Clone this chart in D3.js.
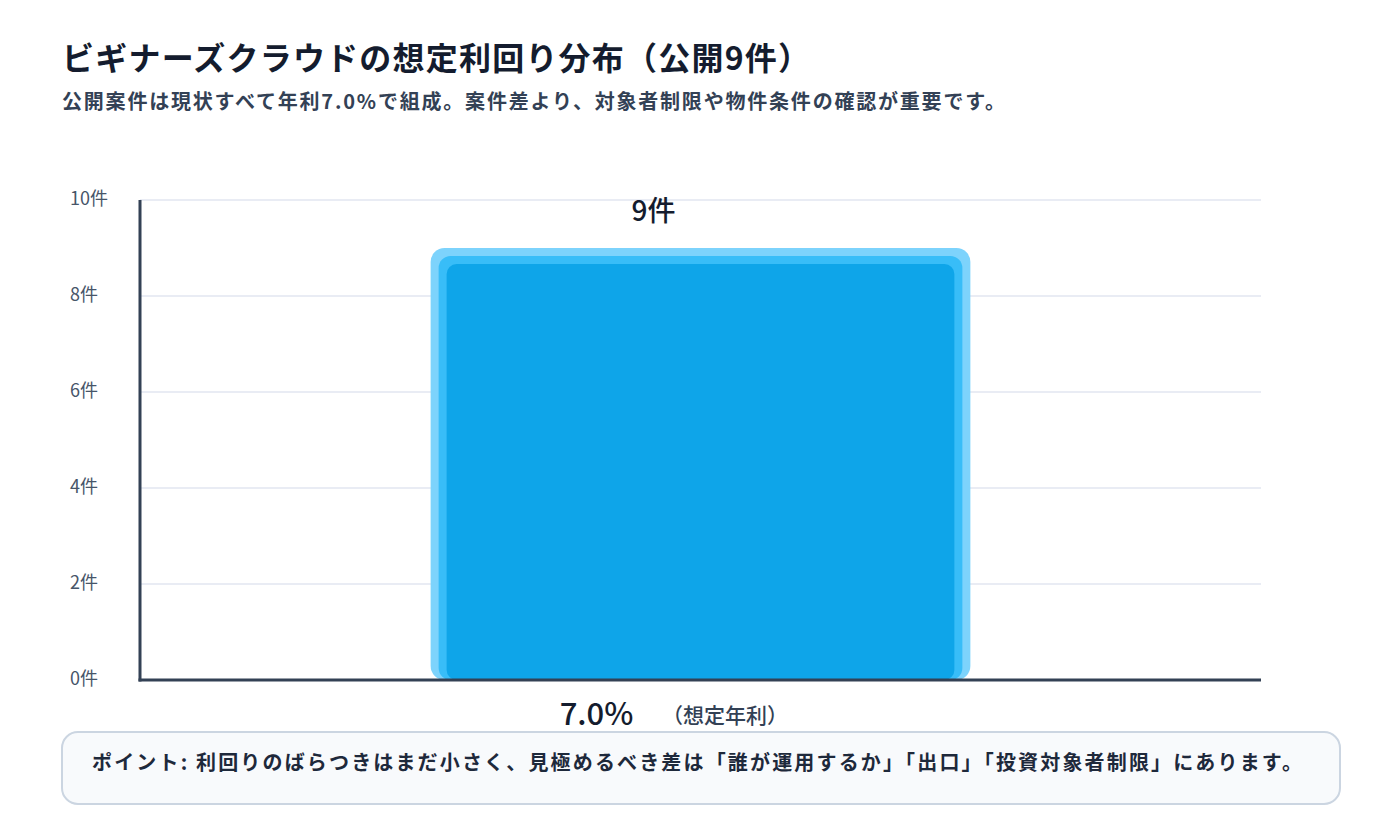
<!DOCTYPE html>
<html><head><meta charset="utf-8">
<script src="https://cdn.jsdelivr.net/npm/d3@7"></script>
<style>
html,body{margin:0;padding:0;background:#fff;}
svg{display:block;font-family:"Noto Sans CJK JP","Noto Sans",sans-serif;}
</style></head>
<body><svg id="chart" width="1400" height="840"></svg>
<script>
const categories = ["7.0%"];
const counts = [9];
const yTicks = [0, 2, 4, 6, 8, 10];
const titleText = "ビギナーズクラウドの想定利回り分布（公開9件）";
const subtitleText = "公開案件は現状すべて年利7.0%で組成。案件差より、対象者制限や物件条件の確認が重要です。";
const axisNote = "（想定年利）";
const noteText = "ポイント: 利回りのばらつきはまだ小さく、見極めるべき差は「誰が運用するか」「出口」「投資対象者制限」にあります。";

const svg = d3.select("#chart");
const m = {left:140, right:1261, top:200, bottom:680};

svg.append("text").attr("x",62).attr("y",70).attr("font-size",32).attr("font-weight",700)
  .attr("fill","#141c2e").attr("textLength",748).attr("lengthAdjust","spacing").text(titleText);
svg.append("text").attr("x",62).attr("y",109).attr("font-size",20).attr("font-weight",700)
  .attr("fill","#334155").attr("textLength",943).attr("lengthAdjust","spacing").text(subtitleText);

const x = d3.scaleBand().domain(categories).range([m.left, m.right]).padding(0.35);
const y = d3.scaleLinear().domain([0,10]).range([m.bottom, m.top]);

// grid
svg.append("g").selectAll("line").data(yTicks.filter(d=>d>0)).join("line")
  .attr("x1",m.left).attr("x2",m.right).attr("y1",d=>y(d)).attr("y2",d=>y(d))
  .attr("stroke","#e2e6f0").attr("stroke-width",1.5);

// y tick labels
svg.append("g").selectAll("text").data(yTicks).join("text")
  .attr("x",70).attr("y",d=>y(d)+5).attr("font-size",18).attr("fill","#475569")
  .text(d=>d+"件");

// bars (three nested layers)
const layers = [{inset:0, fill:"#7dd3fc", r:14},{inset:8, fill:"#38bdf8", r:12},{inset:16, fill:"#0ea5e9", r:10}];
const bars = svg.append("g");
categories.forEach((c,i)=>{
  layers.forEach(L=>{
    const x0 = x(c)+L.inset, w = x.bandwidth()-2*L.inset;
    const top = y(counts[i])+L.inset, h = y(0)-top;
    bars.append("rect").attr("x",x0).attr("y",top).attr("width",w).attr("height",h)
      .attr("rx",L.r).attr("fill",L.fill);
  });
  const cx = x(c)+x.bandwidth()/2;
  svg.append("text").attr("x",cx-47).attr("y",221).attr("text-anchor","middle")
    .attr("font-size",28).attr("font-weight",500).attr("fill","#141c2e").text(counts[i]+"件");
  svg.append("text").attr("x",cx-104).attr("y",725).attr("text-anchor","middle")
    .attr("font-size",31).attr("font-weight",500).attr("fill","#141c2e").text(c);
  svg.append("text").attr("x",cx+24.5).attr("y",723).attr("text-anchor","middle")
    .attr("font-size",21).attr("font-weight",500).attr("fill","#334155").text(axisNote);
});

// axes lines
svg.append("line").attr("x1",m.left).attr("x2",m.left).attr("y1",m.top).attr("y2",m.bottom+1.5)
  .attr("stroke","#334155").attr("stroke-width",3);
svg.append("line").attr("x1",m.left-1.5).attr("x2",m.right).attr("y1",m.bottom).attr("y2",m.bottom)
  .attr("stroke","#334155").attr("stroke-width",3);

// note box
svg.append("rect").attr("x",62).attr("y",732).attr("width",1278).attr("height",72).attr("rx",16)
  .attr("fill","#f8fafc").attr("stroke","#cbd5e1").attr("stroke-width",2);
svg.append("text").attr("x",92).attr("y",770).attr("font-size",20).attr("font-weight",700)
  .attr("fill","#1e293b").attr("textLength",1210).attr("lengthAdjust","spacing").text(noteText);
</script></body></html>
